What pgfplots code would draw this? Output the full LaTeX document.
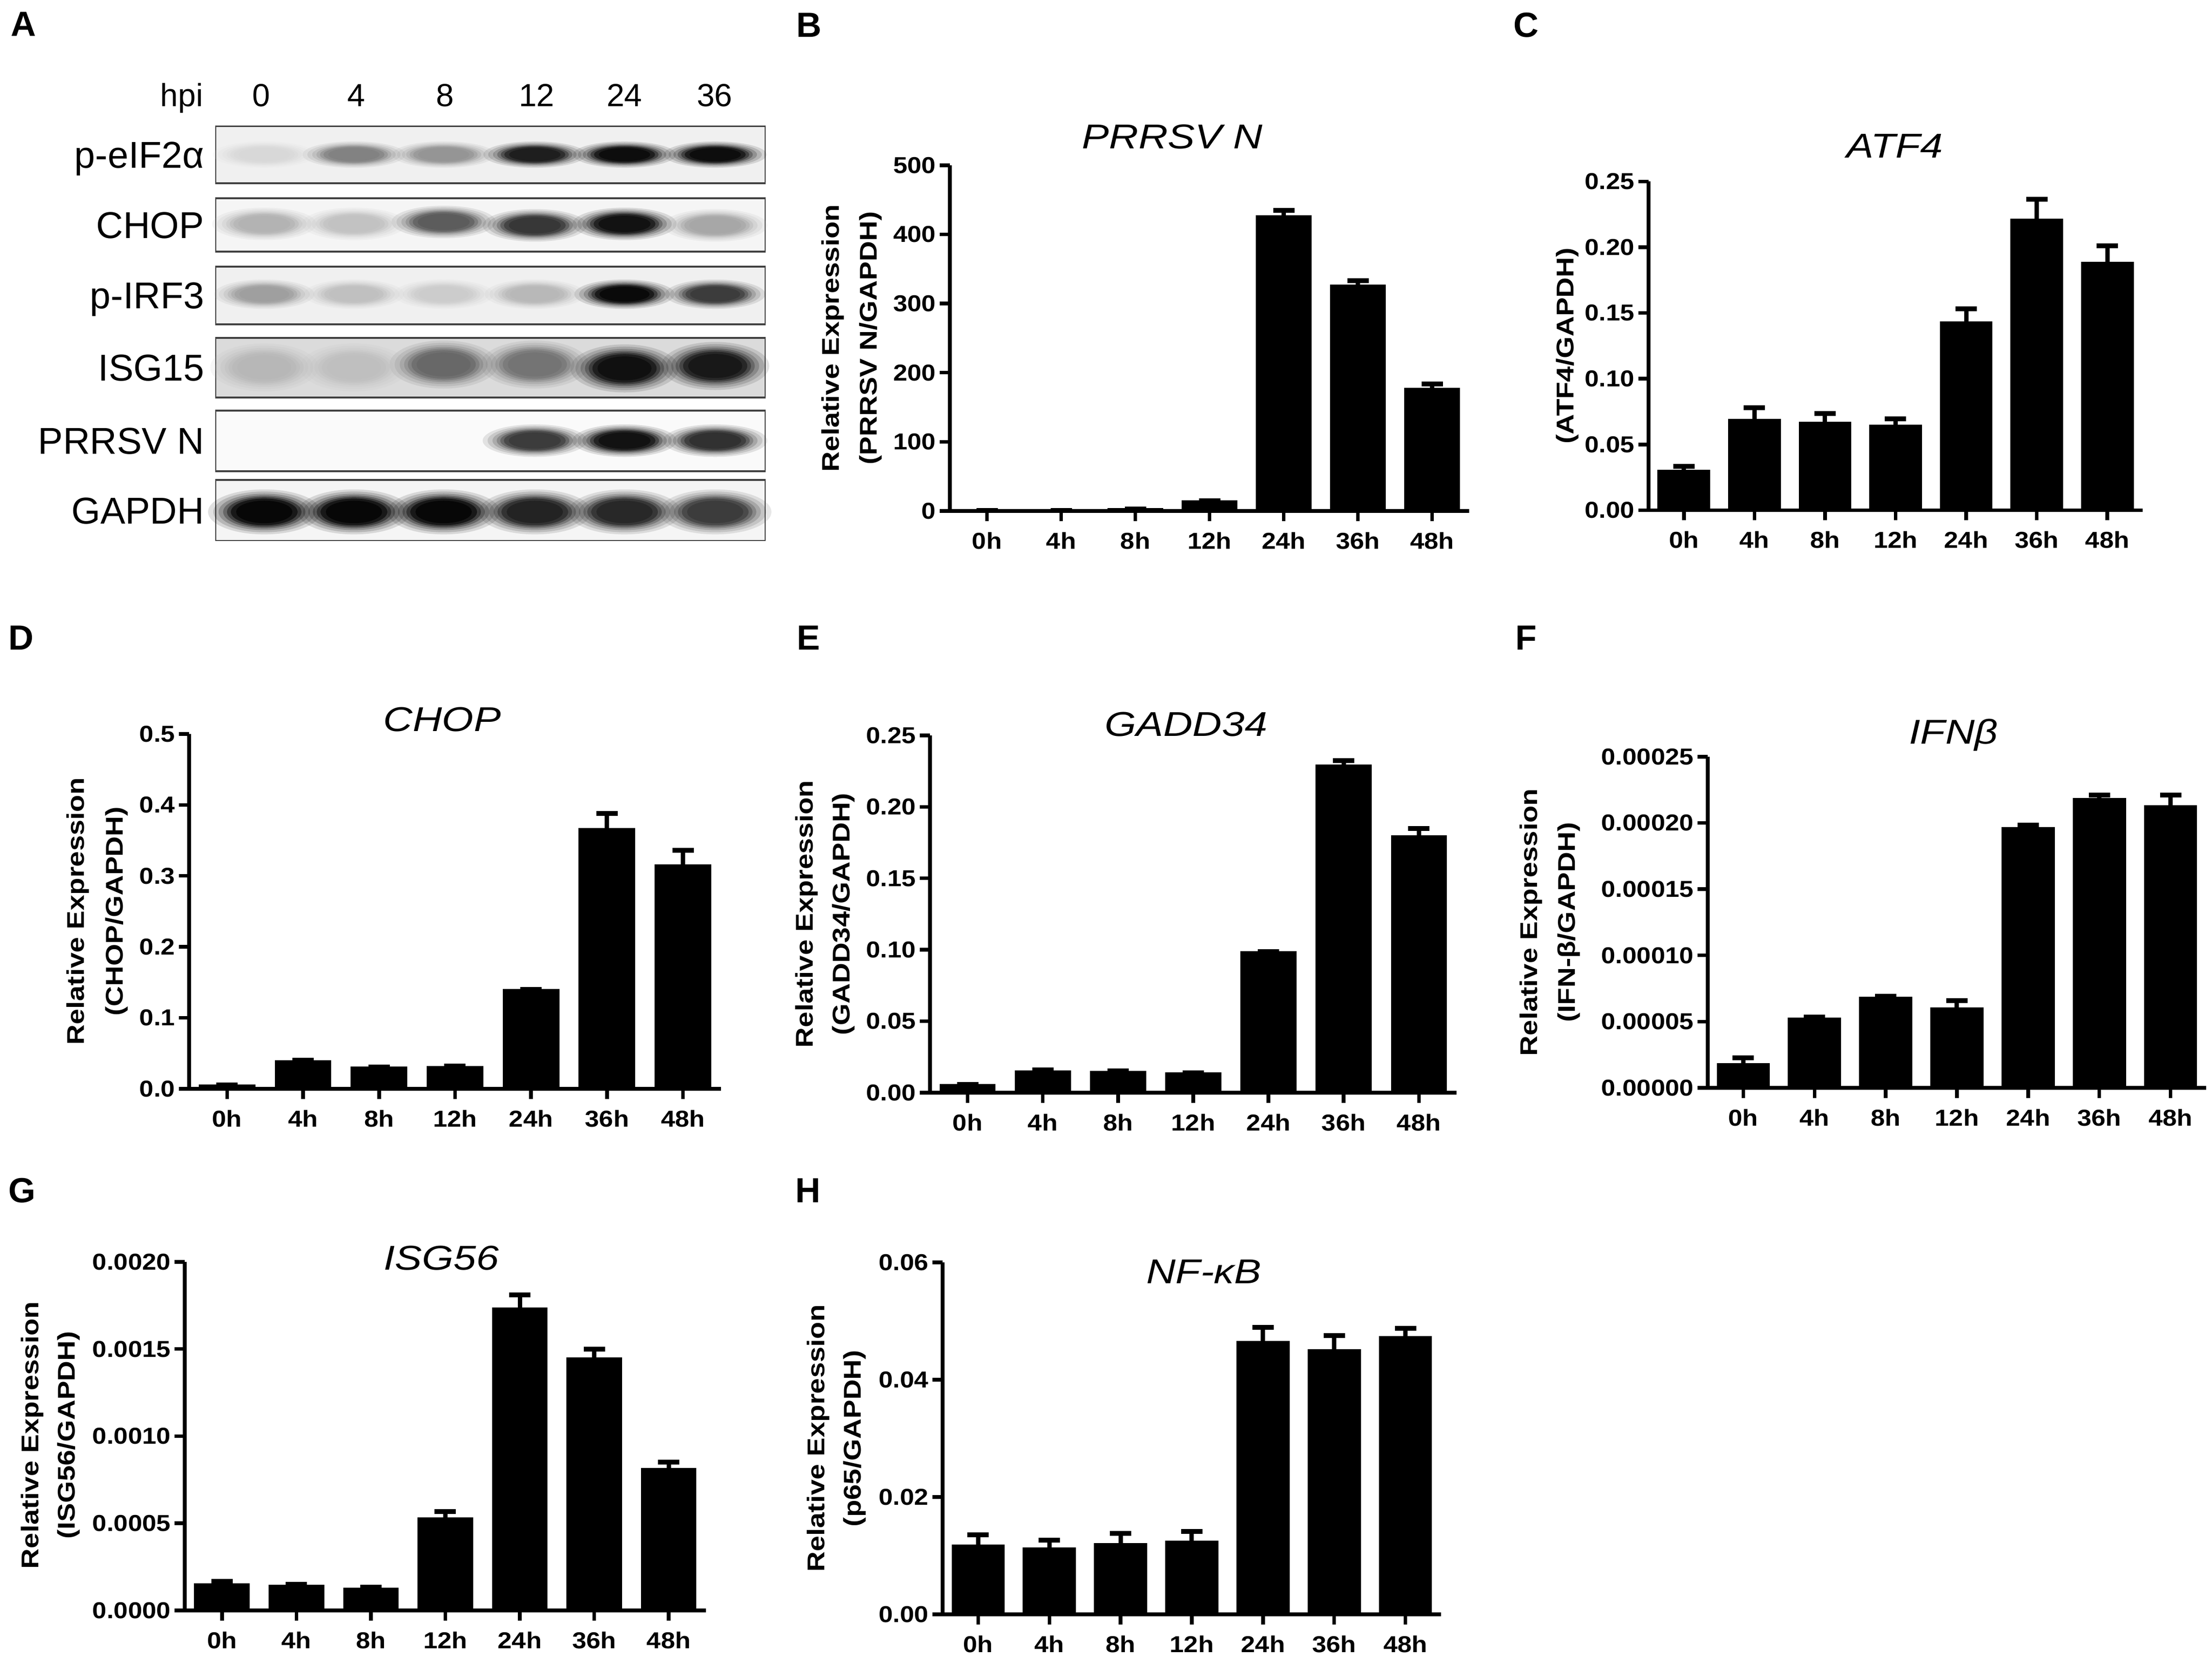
\documentclass[border=0pt]{standalone}
\usepackage{pgfplots}
\pgfplotsset{compat=1.18}
\usepackage{pgfplotstable}
\usepackage{fontspec}
\setmainfont{Liberation Sans}
\newfontfamily\tickfam[FakeStretch=1.11]{Liberation Sans}
\newfontfamily\labfam[FakeStretch=1.16]{Liberation Sans}
\newfontfamily\titfam[FakeStretch=1.18]{Liberation Sans}
\newcommand\tickfont{\tickfam\bfseries\fontsize{4.75}{5.5}\selectfont}
\newcommand\labfont{\labfam\bfseries\fontsize{5.0}{6}\selectfont}
\newcommand\titfont{\titfam\itshape\fontsize{7.1}{8.5}\selectfont}
\newcommand\letfont{\bfseries\fontsize{7.2}{8}\selectfont}
\newcommand\blotfont{\fontsize{7.7}{8}\selectfont}
\newcommand\hpifont{\fontsize{6.6}{7}\selectfont}

\pgfplotstableread{
x y e
0 0.5 0
1 0.5 0
2 3 0
3 14 1
4 426 9
5 326 7
6 177 7
}\dataB
\pgfplotstableread{
x y e
0 0.0300 0.0035
1 0.0689 0.0089
2 0.0665 0.0071
3 0.0644 0.0052
4 0.1427 0.0106
5 0.2211 0.0153
6 0.1881 0.0130
}\dataC
\pgfplotstableread{
x y e
0 0.005 0.0005
1 0.039 0.001
2 0.030 0.0005
3 0.031 0.001
4 0.139 0.001
5 0.366 0.022
6 0.315 0.021
}\dataD
\pgfplotstableread{
x y e
0 0.0055 0.0003
1 0.0148 0.0010
2 0.0145 0.0006
3 0.0136 0.0004
4 0.0982 0.0004
5 0.2290 0.0035
6 0.1795 0.0053
}\dataE
\pgfplotstableread{
x y e
0 0.0000179 0.0000046
1 0.0000522 0.0000012
2 0.0000679 0.0000012
3 0.0000600 0.0000059
4 0.0001960 0.0000025
5 0.0002180 0.0000030
6 0.0002127 0.0000083
}\dataF
\pgfplotstableread{
x y e
0 0.000149 0.000018
1 0.000141 0.000008
2 0.000125 0.000007
3 0.000527 0.000040
4 0.001734 0.000077
5 0.001446 0.000052
6 0.000812 0.000038
}\dataG
\pgfplotstableread{
x y e
0 0.01174 0.00179
1 0.01123 0.00138
2 0.01200 0.00179
3 0.01241 0.00173
4 0.04647 0.00245
5 0.04504 0.00245
6 0.04723 0.00154
}\dataH

\pgfplotsset{
  barpanel/.style={scale only axis, anchor=south west,
    axis x line*=bottom, axis y line*=left,
    xmin=-0.5, xmax=6.5, ymin=0,
    xtick={0,1,2,3,4,5,6}, xticklabels={0h,4h,8h,12h,24h,36h,48h},
    tick align=outside, major tick length=2.1pt,
    tick style={black, line width=0.75pt},
    axis line style={black, line width=0.75pt},
    tick label style={font=\tickfont},
    xticklabel style={inner sep=0.5pt, yshift=-1.6pt},
    yticklabel style={inner sep=0.6pt},
    /pgf/number format/assume math mode=true,
    scaled y ticks=false, clip=false},
  barplot/.style={ybar, bar width=0.72, fill=black, draw=black, line width=0.4pt,
    error bars/.cd, y dir=plus, y explicit,
    error bar style={line width=0.9pt, black},
    error mark options={rotate=90, line width=1.0pt, mark size=2.2pt, black}},
  bandlayer/.style={scatter, only marks, mark=*, point meta=explicit,
    scatter/use mapped color={draw opacity=0, fill=mapped color}},
}
\newcommand\bandrow[3]{%
  \addplot[bandlayer, mark size=1.6*#1, mark options={xscale=#2, fill opacity=0.12, draw opacity=0}] coordinates {#3};
  \addplot[bandlayer, mark size=1.45*#1, mark options={xscale=#2, fill opacity=0.15, draw opacity=0}] coordinates {#3};
  \addplot[bandlayer, mark size=1.3*#1, mark options={xscale=#2, fill opacity=0.2, draw opacity=0}] coordinates {#3};
  \addplot[bandlayer, mark size=1.17*#1, mark options={xscale=#2, fill opacity=0.28, draw opacity=0}] coordinates {#3};
  \addplot[bandlayer, mark size=1.06*#1, mark options={xscale=#2, fill opacity=0.4, draw opacity=0}] coordinates {#3};
  \addplot[bandlayer, mark size=0.95*#1, mark options={xscale=#2, fill opacity=0.6, draw opacity=0}] coordinates {#3};
  \addplot[bandlayer, mark size=0.8*#1, mark options={xscale=#2, fill opacity=0.7, draw opacity=0}] coordinates {#3};
}

\begin{document}
\begin{tikzpicture}
\useasboundingbox (0,0) rectangle (456.2pt,341.8pt);

% ---------- Panel A: blot ----------
\begin{axis}[at={(44.4pt,230.2pt)}, anchor=south west, scale only axis,
  width=113.5pt, height=85.6pt, xmin=444, xmax=1579, ymin=260, ymax=1116,
  y dir=reverse, hide axis, clip=true,
  colormap={blot}{gray(0cm)=(1); gray(1cm)=(0)}, point meta min=0, point meta max=1]
  \fill[black!6] (axis cs:444,260) rectangle (axis cs:1579,378);
  \fill[black!4] (axis cs:444,409) rectangle (axis cs:1579,519);
  \fill[black!6] (axis cs:444,550) rectangle (axis cs:1579,669);
  \fill[black!14] (axis cs:444,697) rectangle (axis cs:1579,820);
  \fill[black!2] (axis cs:444,847) rectangle (axis cs:1579,972);
  \fill[black!4] (axis cs:444,990) rectangle (axis cs:1579,1116);
  \bandrow{1.7pt}{3.9}{(545,319) [0.15] (730,319) [0.5] (915,319) [0.42] (1103,319) [0.9] (1288,319) [0.97] (1475,319) [0.97]}
  \bandrow{2.1pt}{3.2}{(545,462) [0.3] (730,462) [0.24] (915,458) [0.65] (1103,465) [0.8] (1288,462) [0.95] (1475,465) [0.35]}
  \bandrow{1.9pt}{3.4}{(545,607) [0.38] (730,607) [0.25] (915,607) [0.2] (1103,607) [0.28] (1288,607) [0.98] (1475,607) [0.78]}
  \bandrow{3.1pt}{2.25}{(545,758) [0.28] (730,758) [0.25] (915,752) [0.6] (1103,752) [0.55] (1288,760) [0.95] (1475,755) [0.92]}
  \bandrow{2.1pt}{3.2}{(1103,909) [0.78] (1288,909) [0.95] (1475,909) [0.82]}
  \bandrow{2.9pt}{2.5}{(545,1056) [1] (730,1056) [1] (915,1056) [1] (1103,1056) [0.88] (1288,1056) [0.86] (1475,1056) [0.78]}
  \draw[black!75, line width=0.45pt] (axis cs:444,260) rectangle (axis cs:1579,378);
  \draw[black!75, line width=0.45pt] (axis cs:444,409) rectangle (axis cs:1579,519);
  \draw[black!75, line width=0.45pt] (axis cs:444,550) rectangle (axis cs:1579,669);
  \draw[black!75, line width=0.45pt] (axis cs:444,697) rectangle (axis cs:1579,820);
  \draw[black!75, line width=0.45pt] (axis cs:444,847) rectangle (axis cs:1579,972);
  \draw[black!75, line width=0.45pt] (axis cs:444,990) rectangle (axis cs:1579,1116);
\end{axis}
\node[font=\hpifont, anchor=base] at (37.5pt,319.8pt) {hpi};
\node[font=\hpifont, anchor=base] at (53.9pt,319.8pt) {0};
\node[font=\hpifont, anchor=base] at (73.5pt,319.8pt) {4};
\node[font=\hpifont, anchor=base] at (91.8pt,319.8pt) {8};
\node[font=\hpifont, anchor=base] at (110.7pt,319.8pt) {12};
\node[font=\hpifont, anchor=base] at (128.8pt,319.8pt) {24};
\node[font=\hpifont, anchor=base] at (147.4pt,319.8pt) {36};
\node[font=\blotfont, anchor=base east, inner sep=0pt] at (42.3pt,307.15pt) {p-eIF2α};
\node[font=\blotfont, anchor=base east, inner sep=0pt] at (42.3pt,292.65pt) {CHOP};
\node[font=\blotfont, anchor=base east, inner sep=0pt] at (42.3pt,278.1pt) {p-IRF3};
\node[font=\blotfont, anchor=base east, inner sep=0pt] at (42.3pt,263.25pt) {ISG15};
\node[font=\blotfont, anchor=base east, inner sep=0pt] at (42.3pt,248.1pt) {PRRSV N};
\node[font=\blotfont, anchor=base east, inner sep=0pt] at (42.3pt,233.75pt) {GAPDH};

% ---------- Panel B ----------
\begin{axis}[barpanel, at={(195.9pt,236.4pt)}, width=107.1pt, height=71.3pt,
  ymax=500, ytick={0,100,200,300,400,500}]
  \addplot[barplot] table[x=x,y=y,y error=e] {\dataB};
\end{axis}
\node[font=\titfont] at (241.8pt,313.6pt) {PRRSV N};
\node[font=\labfont, rotate=90] at (171.8pt,272.05pt) {Relative Expression};
\node[font=\labfont, rotate=90] at (179.6pt,272.05pt) {(PRRSV N/GAPDH)};

% ---------- Panel C ----------
\begin{axis}[barpanel, at={(340.0pt,236.55pt)}, width=101.9pt, height=67.8pt,
  ymax=0.25, ytick={0,0.05,0.1,0.15,0.2,0.25},
  yticklabel style={/pgf/number format/.cd, fixed, fixed zerofill, precision=2}]
  \addplot[barplot] table[x=x,y=y,y error=e] {\dataC};
\end{axis}
\node[font=\titfont] at (390.8pt,311.7pt) {ATF4};
\node[font=\labfont, rotate=90] at (323.3pt,270.45pt) {(ATF4/GAPDH)};

% ---------- Panel D ----------
\begin{axis}[barpanel, at={(39.0pt,117.2pt)}, width=109.7pt, height=73.2pt,
  ymax=0.5, ytick={0,0.1,0.2,0.3,0.4,0.5},
  yticklabel style={/pgf/number format/.cd, fixed, fixed zerofill, precision=1}]
  \addplot[barplot] table[x=x,y=y,y error=e] {\dataD};
\end{axis}
\node[font=\titfont] at (91.2pt,193.4pt) {CHOP};
\node[font=\labfont, rotate=90] at (16.1pt,153.8pt) {Relative Expression};
\node[font=\labfont, rotate=90] at (24.1pt,153.8pt) {(CHOP/GAPDH)};

% ---------- Panel E ----------
\begin{axis}[barpanel, at={(191.8pt,116.4pt)}, width=108.6pt, height=73.7pt,
  ymax=0.25, ytick={0,0.05,0.1,0.15,0.2,0.25},
  yticklabel style={/pgf/number format/.cd, fixed, fixed zerofill, precision=2}]
  \addplot[barplot] table[x=x,y=y,y error=e] {\dataE};
\end{axis}
\node[font=\titfont] at (244.6pt,192.4pt) {GADD34};
\node[font=\labfont, rotate=90] at (166.4pt,153.25pt) {Relative Expression};
\node[font=\labfont, rotate=90] at (174.0pt,153.25pt) {(GADD34/GAPDH)};

% ---------- Panel F ----------
\begin{axis}[barpanel, at={(352.2pt,117.4pt)}, width=102.8pt, height=68.3pt,
  ymax=0.00025, ytick={0,0.00005,0.0001,0.00015,0.0002,0.00025},
  yticklabel style={/pgf/number format/.cd, fixed, fixed zerofill, precision=5}]
  \addplot[barplot] table[x=x,y=y,y error=e] {\dataF};
\end{axis}
\node[font=\titfont] at (402.9pt,190.2pt) {IFNβ};
\node[font=\labfont, rotate=90] at (315.8pt,151.55pt) {Relative Expression};
\node[font=\labfont, rotate=90] at (323.6pt,151.55pt) {(IFN-β/GAPDH)};

% ---------- Panel G ----------
\begin{axis}[barpanel, at={(38.1pt,9.6pt)}, width=107.5pt, height=71.9pt,
  ymax=0.002, ytick={0,0.0005,0.001,0.0015,0.002},
  yticklabel style={/pgf/number format/.cd, fixed, fixed zerofill, precision=4}]
  \addplot[barplot] table[x=x,y=y,y error=e] {\dataG};
\end{axis}
\node[font=\titfont] at (91.0pt,82.3pt) {ISG56};
\node[font=\labfont, rotate=90] at (6.7pt,45.75pt) {Relative Expression};
\node[font=\labfont, rotate=90] at (14.2pt,45.75pt) {(ISG56/GAPDH)};

% ---------- Panel H ----------
\begin{axis}[barpanel, at={(194.4pt,8.8pt)}, width=102.8pt, height=72.6pt,
  ymax=0.06, ytick={0,0.02,0.04,0.06},
  yticklabel style={/pgf/number format/.cd, fixed, fixed zerofill, precision=2}]
  \addplot[barplot] table[x=x,y=y,y error=e] {\dataH};
\end{axis}
\node[font=\titfont] at (248.3pt,79.5pt) {NF-κB};
\node[font=\labfont, rotate=90] at (168.8pt,45.1pt) {Relative Expression};
\node[font=\labfont, rotate=90] at (176.3pt,45.1pt) {(p65/GAPDH)};

% ---------- panel letters ----------
\node[font=\letfont] at (4.8pt,336.8pt) {A};
\node[font=\letfont] at (166.8pt,336.6pt) {B};
\node[font=\letfont] at (314.7pt,336.6pt) {C};
\node[font=\letfont] at (4.4pt,210.2pt) {D};
\node[font=\letfont] at (166.8pt,210.2pt) {E};
\node[font=\letfont] at (314.7pt,210.2pt) {F};
\node[font=\letfont] at (4.6pt,96.2pt) {G};
\node[font=\letfont] at (166.6pt,96.2pt) {H};
\end{tikzpicture}
\end{document}
